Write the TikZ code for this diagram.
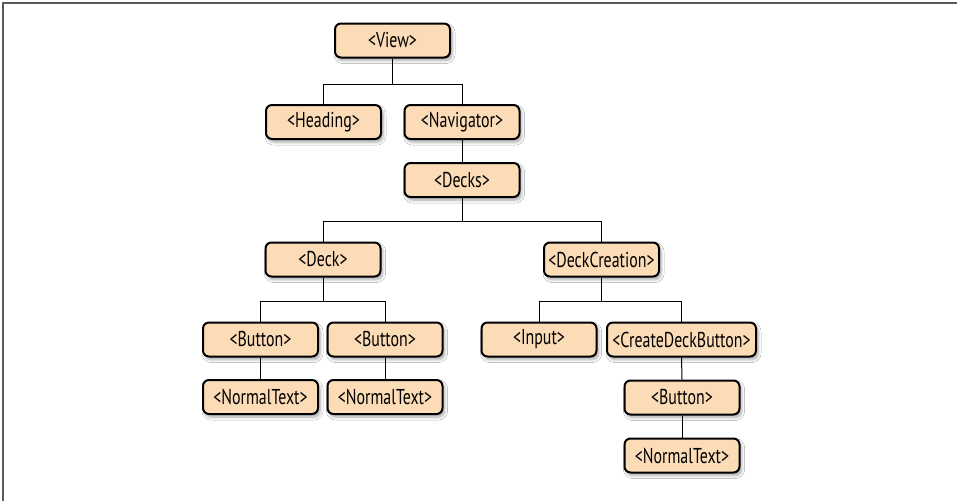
\documentclass[tikz,border=0pt]{standalone}
\usepackage{fontspec}
\newfontfamily\condfont[FakeStretch=0.74]{PT Sans}
\usetikzlibrary{shadows.blur}
\definecolor{peach}{RGB}{252,220,183}
\definecolor{framegray}{RGB}{90,90,90}
\tikzset{
  comp/.style={draw=black, line width=2pt, fill=peach, rounded corners=6pt,
    minimum width=115pt, minimum height=34pt, inner sep=0pt,
    font=\condfont\fontsize{21.5}{21.5}\selectfont,
    blur shadow={shadow xshift=2pt, shadow yshift=-3pt, shadow blur steps=6, shadow opacity=35, shadow blur radius=3pt}},
  link/.style={draw=black, line width=1pt}
}
\begin{document}
\begin{tikzpicture}[x=1pt,y=-1pt]
\useasboundingbox (0,0) rectangle (957,501);
\fill[white] (0,0) rectangle (957,501);
\draw[framegray, line width=2pt] (3,501) -- (3,3) -- (957,3);

\node[comp] (view) at (392.5,40.5) {<View>};
\node[comp] (heading) at (323.5,122) {<Heading>};
\node[comp] (navigator) at (462,122) {<Navigator>};
\node[comp] (decks) at (462,180) {<Decks>};
\node[comp] (deck) at (323,259.5) {<Deck>};
\node[comp] (deckcreation) at (601.5,259.5) {<DeckCreation>};
\node[comp] (button1) at (260.5,339.5) {<Button>};
\node[comp] (button2) at (385,339.5) {<Button>};
\node[comp] (input) at (539,339.5) {<Input>};
\node[comp, minimum width=149pt] (cdb) at (681.5,339.5) {<CreateDeckButton>};
\node[comp] (nt1) at (260.5,397) {<NormalText>};
\node[comp] (nt2) at (385,397) {<NormalText>};
\node[comp] (button3) at (682,397.5) {<Button>};
\node[comp] (nt3) at (682,455.5) {<NormalText>};

\coordinate (bar1) at (0,84);
\coordinate (bar2) at (0,221);
\coordinate (bar3) at (0,301);

\draw[link] (view.south) -- (view.south |- bar1) -| (heading.north);
\draw[link] (view.south |- bar1) -| (navigator.north);
\draw[link] (navigator.south) -- (decks.north);
\draw[link] (decks.south) -- (decks.south |- bar2) -| (deck.north);
\draw[link] (decks.south |- bar2) -| (deckcreation.north);
\draw[link] (deck.south) -- (deck.south |- bar3) -| (button1.north);
\draw[link] (deck.south |- bar3) -| (button2.north);
\draw[link] (deckcreation.south) -- (deckcreation.south |- bar3) -| (input.north);
\draw[link] (deckcreation.south |- bar3) -| (cdb.north);
\draw[link] (button1.south) -- (nt1.north);
\draw[link] (button2.south) -- (nt2.north);
\draw[link] (cdb.south) -- (button3.north);
\draw[link] (button3.south) -- (nt3.north);
\end{tikzpicture}
\end{document}
